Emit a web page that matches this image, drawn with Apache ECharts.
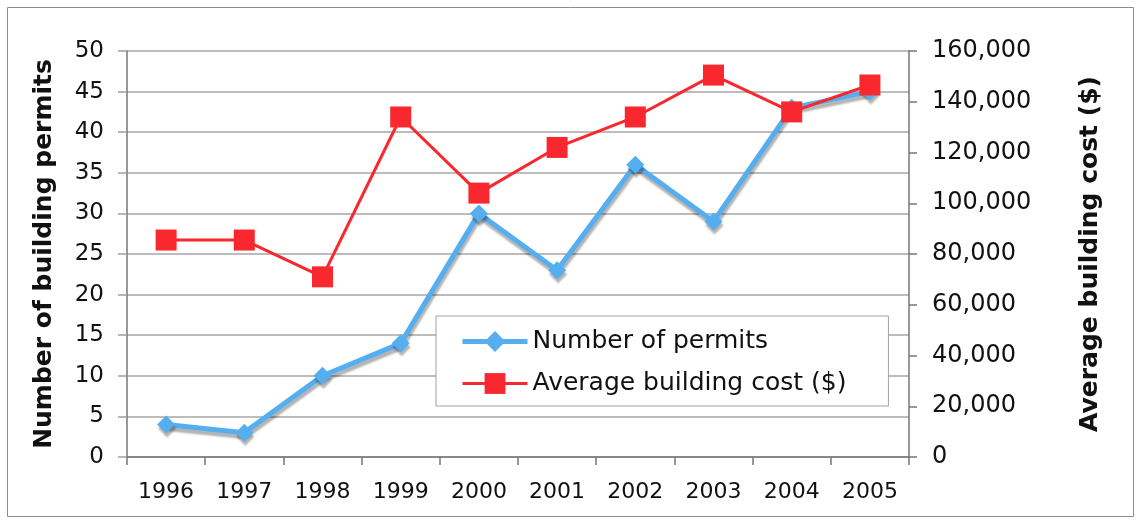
<!DOCTYPE html>
<html>
<head>
<meta charset="utf-8">
<script src="https://cdn.jsdelivr.net/npm/echarts@6/dist/echarts.min.js"></script>
<style>
html, body { margin: 0; padding: 0; background: #fff; }
#chart { width: 1136px; height: 520px; }
</style>
</head>
<body>
<div id="chart"></div>
<script>
// data
var years = ['1996', '1997', '1998', '1999', '2000', '2001', '2002', '2003', '2004', '2005'];
var permits = [4, 3, 10, 14, 30, 23, 36, 29, 43, 45];
var avgCost = [85500, 85500, 71000, 134000, 104000, 122000, 134000, 150500, 136000, 146600];

var myEchart = echarts.init(document.getElementById('chart'));
var font = 'Verdana, "DejaVu Sans", sans-serif';
var option = {
    animation: false,
    textStyle: { fontFamily: font },
    graphic: [{
        type: 'rect',
        shape: { x: 7.5, y: 7.5, width: 1126, height: 509 },
        style: { fill: 'none', stroke: '#8c8c8c', lineWidth: 1 },
        z: -1
    }],
    grid: {
        left: 127,
        right: 227,
        top: 51,
        bottom: 63
    },
    legend: {
        orient: 'vertical',
        left: 436,
        top: 316,
        padding: [13, 42, 10, 24],
        itemGap: 17,
        itemWidth: 65,
        itemHeight: 26,
        backgroundColor: '#fff',
        borderColor: '#a0a0a0',
        borderWidth: 1,
        borderRadius: 0,
        textStyle: {
            color: '#111',
            fontSize: 25,
            fontFamily: font
        },
        data: [{
            name: 'Number of permits',
            lineStyle: { width: 5, shadowBlur: 0, shadowOffsetX: 0, shadowOffsetY: 0 },
            itemStyle: { shadowBlur: 0, shadowOffsetX: 0, shadowOffsetY: 0 }
        }, {
            name: 'Average building cost ($)',
            lineStyle: { width: 3 }
        }]
    },
    xAxis: {
        type: 'category',
        data: years,
        boundaryGap: true,
        axisLine: { lineStyle: { color: '#777', width: 1.5 } },
        axisTick: { show: true, length: 8, alignWithLabel: false, lineStyle: { color: '#777', width: 1.5 } },
        axisLabel: { color: '#111', fontSize: 22, margin: 24 },
        splitLine: { show: false }
    },
    yAxis: [{
        type: 'value',
        min: 0,
        max: 50,
        interval: 5,
        name: 'Number of building permits',
        nameLocation: 'middle',
        nameRotate: 90,
        nameGap: 70,
        nameTextStyle: { color: '#111', fontSize: 25, fontWeight: 'bold' },
        axisLine: { show: true, lineStyle: { color: '#777', width: 1.5 } },
        axisTick: { show: true, length: 9, lineStyle: { color: '#a0a0a0', width: 1.5 } },
        axisLabel: { color: '#111', fontSize: 23, margin: 23 },
        splitLine: { show: true, lineStyle: { color: '#a6a6a6', width: 1.5 } }
    }, {
        type: 'value',
        min: 0,
        max: 160000,
        interval: 20000,
        name: 'Average building cost ($)',
        nameLocation: 'middle',
        nameRotate: 90,
        nameGap: 169,
        nameTextStyle: { color: '#111', fontSize: 25, fontWeight: 'bold' },
        axisLine: { show: true, lineStyle: { color: '#777', width: 1.5 } },
        axisTick: { show: true, length: 8, lineStyle: { color: '#777', width: 1.5 } },
        axisLabel: {
            color: '#111',
            fontSize: 24,
            margin: 23,
            formatter: function(value) {
                return value.toString().replace(/\B(?=(\d{3})+(?!\d))/g, ',');
            }
        },
        splitLine: { show: false }
    }],
    series: [{
        name: 'Number of permits',
        type: 'line',
        yAxisIndex: 0,
        data: permits,
        symbol: 'diamond',
        symbolSize: 18,
        lineStyle: {
            color: '#55aef0',
            width: 5,
            shadowColor: 'rgba(0,0,0,0.3)',
            shadowOffsetX: 1,
            shadowOffsetY: 4,
            shadowBlur: 2
        },
        itemStyle: {
            color: '#55aef0',
            shadowColor: 'rgba(0,0,0,0.3)',
            shadowOffsetX: 1,
            shadowOffsetY: 4,
            shadowBlur: 2
        }
    }, {
        name: 'Average building cost ($)',
        type: 'line',
        yAxisIndex: 1,
        data: avgCost,
        symbol: 'rect',
        symbolSize: 21,
        lineStyle: { color: '#f8282e', width: 3 },
        itemStyle: { color: '#f8282e' }
    }]
};
myEchart.setOption(option);
</script>
</body>
</html>
